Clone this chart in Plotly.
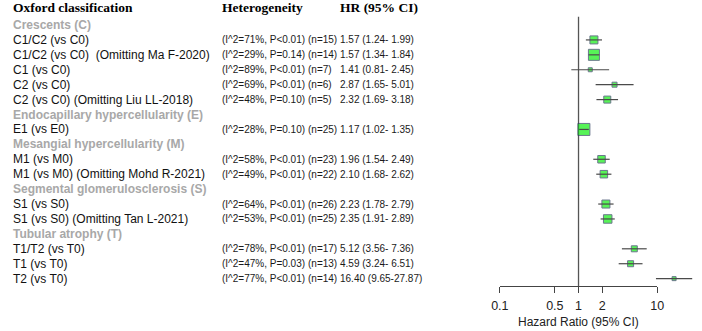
import math
import plotly.graph_objects as go

# ---------------- data ----------------
groups = ["Crescents (C)", "Endocapillary hypercellularity (E)",
          "Mesangial hypercellularity (M)", "Segmental glomerulosclerosis (S)",
          "Tubular atrophy (T)"]
labels = ["C1/C2 (vs C0)", "C1/C2 (vs C0)\u00a0 (Omitting Ma F-2020)", "C1 (vs C0)",
          "C2 (vs C0)", "C2 (vs C0) (Omitting Liu LL-2018)",
          "E1 (vs E0)",
          "M1 (vs M0)", "M1 (vs M0) (Omitting Mohd R-2021)",
          "S1 (vs S0)", "S1 (vs S0) (Omitting Tan L-2021)",
          "T1/T2 (vs T0)", "T1 (vs T0)", "T2 (vs T0)"]
group_idx = [0, 0, 0, 0, 0, 1, 2, 2, 3, 3, 4, 4, 4]
i2 = [71, 29, 89, 69, 48, 28, 58, 49, 64, 53, 78, 47, 77]
p_text = ["P<0.01", "P=0.14", "P<0.01", "P<0.01", "P=0.10", "P=0.10", "P<0.01",
          "P<0.01", "P<0.01", "P<0.01", "P<0.01", "P=0.03", "P<0.01"]
n_studies = [15, 14, 7, 6, 5, 25, 23, 22, 26, 25, 17, 13, 14]
hr = [1.57, 1.57, 1.41, 2.87, 2.32, 1.17, 1.96, 2.10, 2.23, 2.35, 5.12, 4.59, 16.40]
lo = [1.24, 1.34, 0.81, 1.65, 1.69, 1.02, 1.54, 1.68, 1.78, 1.91, 3.56, 3.24, 9.65]
hi = [1.99, 1.84, 2.45, 5.01, 3.18, 1.35, 2.49, 2.62, 2.79, 2.89, 7.36, 6.51, 27.87]
tick_vals = [0.1, 0.5, 1, 2, 10]
tick_text = ["0.1", "0.5", "1", "2", "10"]
headers = ["Oxford classification", "Heterogeneity", "HR (95% CI)"]
axis_title = "Hazard Ratio (95% CI)"

# ---------------- styles ----------------
box_size = [8, 11, 4, 5, 7, 12, 7.5, 7.5, 8, 8.5, 6, 6, 4]
W, H = 702, 331
SANS = "Liberation Sans, Arial, sans-serif"
SERIF = "Liberation Serif, Times New Roman, serif"
PLOT_BOTTOM = 286          # px of the axis line
ROW0_PX, ROW_STEP = 25.0, 14.92
X_LO_PX, X_HI_PX = 502.3, 663.3   # pixels of 0.1 and 10
PX_PER_DEC = (X_HI_PX - X_LO_PX) / 2.0
COL_LABEL, COL_HET, COL_N, COL_HR = 2, 216, 304, 337
STAT = 10

# row layout
row_of_item = []
group_rows = []
r = 1
for g in range(len(groups)):
    group_rows.append(r)
    r += 1
    for k, gi in enumerate(group_idx):
        if gi == g:
            row_of_item.append(r)
            r += 1

y_top = 1 - ROW0_PX / ROW_STEP
y_bot = y_top + PLOT_BOTTOM / ROW_STEP

def px2row(py):
    return y_top + py / ROW_STEP

x2_range = [-1 - X_LO_PX / PX_PER_DEC, -1 + (W - X_LO_PX) / PX_PER_DEC]

fig = go.Figure()

# reference line at HR = 1
fig.add_trace(go.Scatter(x=[1, 1], y=[px2row(16.7), y_bot], mode="lines",
                         line=dict(color="#555555", width=1.3),
                         xaxis="x2", yaxis="y", hoverinfo="skip", showlegend=False))

# squares
fig.add_trace(go.Scatter(x=hr, y=row_of_item, mode="markers",
                         marker=dict(symbol="square", size=box_size, color="#11ee11",
                                     line=dict(color="#2e3e5e", width=1)),
                         xaxis="x2", yaxis="y", hoverinfo="skip", showlegend=False))

# CI lines
cx, cy = [], []
for l, u, rr in zip(lo, hi, row_of_item):
    cx += [l, u, None]
    cy += [rr, rr, None]
fig.add_trace(go.Scatter(x=cx, y=cy, mode="lines",
                         line=dict(color="#4a4a4a", width=1.2),
                         xaxis="x2", yaxis="y", hoverinfo="skip", showlegend=False))

# dummy trace for the visible axis
fig.add_trace(go.Scatter(x=[1], y=[y_bot], mode="markers", marker=dict(opacity=0),
                         xaxis="x", yaxis="y", hoverinfo="skip", showlegend=False))

ann = []
def add_text(px, row, text, size=12, color="#111111", family=SANS, bold=False):
    if bold:
        text = "<b>" + text + "</b>"
    ann.append(dict(x=px / W, xref="paper", y=row, yref="y", text=text,
                    xanchor="left", yanchor="middle", showarrow=False,
                    font=dict(size=size, color=color, family=family)))

hdr_row = px2row(7)
add_text(COL_LABEL, hdr_row, headers[0], size=13.5, color="#000000", family=SERIF, bold=True)
add_text(COL_HET, hdr_row, headers[1], size=13.5, color="#000000", family=SERIF, bold=True)
add_text(COL_HR, hdr_row, headers[2], size=13.5, color="#000000", family=SERIF, bold=True)

for g, rr in zip(groups, group_rows):
    add_text(COL_LABEL, rr, g, color="#a8a8a8", bold=True)

for k in range(len(labels)):
    rr = row_of_item[k]
    add_text(COL_LABEL, rr, labels[k])
    add_text(COL_HET, rr, f"(I^2={i2[k]}%, {p_text[k]})", size=STAT, color="#1a1a1a")
    add_text(COL_N, rr, f"(n={n_studies[k]})", size=STAT, color="#1a1a1a")
    add_text(COL_HR, rr, f"{hr[k]:.2f} ({lo[k]:.2f}-{hi[k]:5.2f})".replace("- ", "-\u00a0"),
             size=STAT, color="#1a1a1a")

ann.append(dict(x=0.5, xref="x domain", y=-(322 - PLOT_BOTTOM) / PLOT_BOTTOM,
                yref="paper", text=axis_title, showarrow=False,
                xanchor="center", yanchor="middle",
                font=dict(size=12, color="#222222", family=SANS)))

fig.update_layout(
    width=W, height=H,
    margin=dict(l=0, r=0, t=0, b=H - PLOT_BOTTOM, pad=0),
    paper_bgcolor="white", plot_bgcolor="white",
    annotations=ann,
    xaxis=dict(type="log", domain=[X_LO_PX / W, X_HI_PX / W], range=[-1, 1],
               anchor="y", tickvals=tick_vals, ticktext=tick_text,
               ticks="outside", ticklen=6, tickwidth=1.3, tickcolor="#444444",
               showline=True, linecolor="#444444", linewidth=1.3,
               showgrid=False, zeroline=False, ticklabelstandoff=2,
               tickfont=dict(size=12.5, color="#222222", family=SANS)),
    xaxis2=dict(type="log", domain=[0, 1], range=x2_range, anchor="y",
                visible=False),
    yaxis=dict(range=[y_bot, y_top], visible=False),
)

fig.write_html("out.html")
